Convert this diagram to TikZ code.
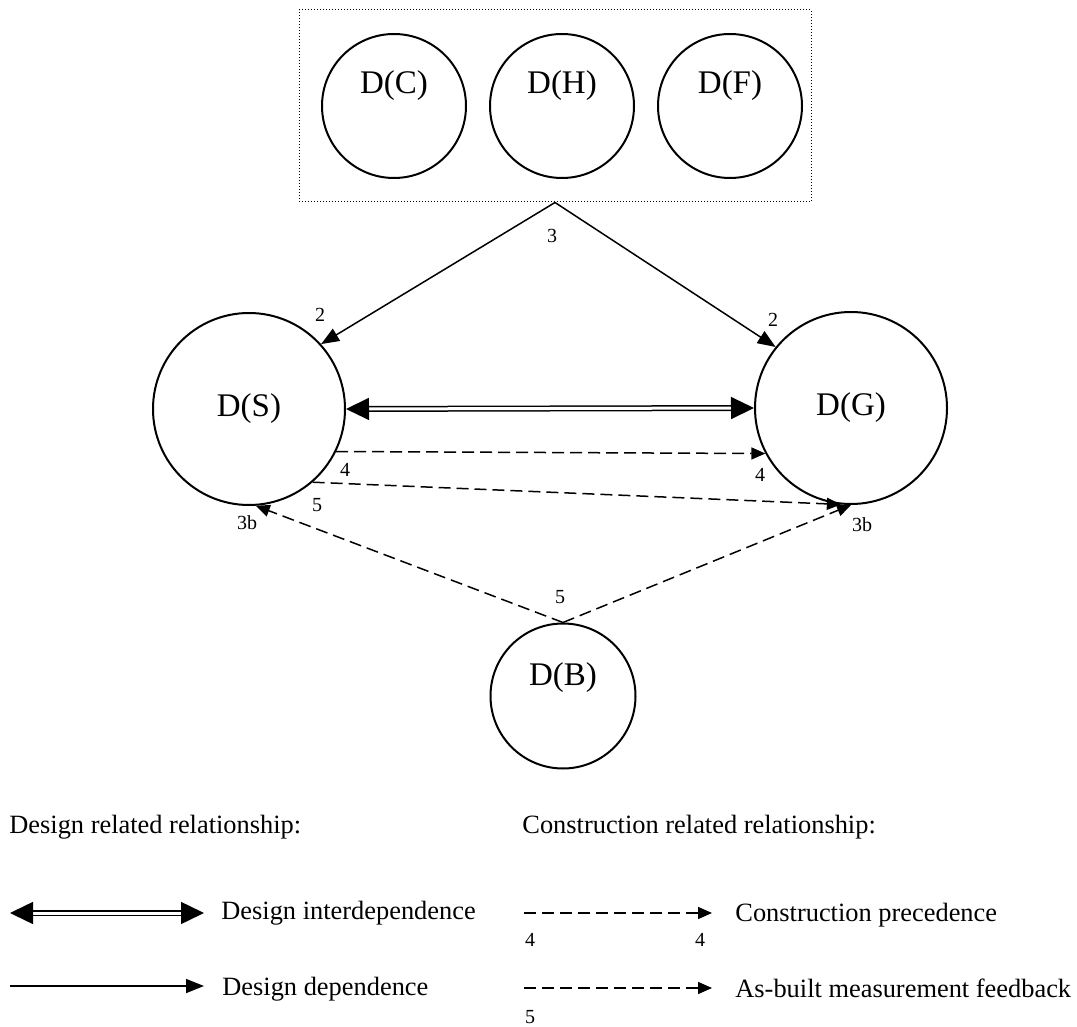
\documentclass[tikz,border=0pt]{standalone}
\usepackage{fontspec}
\setmainfont{Liberation Serif}
\usetikzlibrary{positioning,arrows.meta}

\begin{document}
\begin{tikzpicture}[x=0.5pt,y=-0.5pt]
        \tikzstyle{design}=[circle, draw, line width=1pt, font=\fontsize{16.5}{18}\selectfont];
        \tikzstyle{dname}=[font=\fontsize{16.5}{18}\selectfont];
        \tikzstyle{num}=[inner sep=0, font=\fontsize{10}{12}\selectfont];
        \tikzstyle{legend}=[inner sep=0, anchor=west, font=\fontsize{13.2}{16}\selectfont];
        \tikzstyle{dep}=[line width=0.75pt, -{Triangle[length=9pt, width=7pt]}];
        \tikzstyle{inter}=[double, double distance=1.5pt, line width=0.75pt, {Triangle[length=11.5pt, width=11pt]}-{Triangle[length=11.5pt, width=11pt]}];
        \tikzstyle{constr}=[line width=0.75pt, dash pattern=on 6pt off 3pt, -{Triangle[length=7pt, width=6pt]}];

        \useasboundingbox (0,0) rectangle (1077,1027);

        \node [draw, densely dotted, line width=0.5pt, minimum width=256pt, minimum height=96pt] (grp) at (555,106) {};
        \node [design, minimum size=72pt, label={[dname, yshift=10pt]center:D(C)}] (C) at (394,106) {};
        \node [design, minimum size=72pt, label={[dname, yshift=10pt]center:D(H)}] (H) at (562,106) {};
        \node [design, minimum size=72pt, label={[dname, yshift=10pt]center:D(F)}] (F) at (730,106) {};

        \node [design, minimum size=96pt] (S) at (249,409) {D(S)};
        \node [design, minimum size=96pt] (G) at (851,408) {D(G)};
        \node [design, minimum size=72.5pt, label={[dname, yshift=9pt]center:D(B)}] (B) at (563,696) {};

        \draw [dep] (grp.south) -- (S.42);
        \draw [dep] (grp.south) -- (G.141);
        \draw [inter] (S.east) -- (G.west);
        \draw [constr] (S.-26) -- (G.208);
        \draw [constr] (S.-49) -- (G.264);
        \draw [constr] (B.north) -- (S.-86);
        \draw [constr] (B.north) -- (G.270);

        \node [num] (n3) at (552,236) {3};
        \node [num] (n2s) at (320,315) {2};
        \node [num] (n2g) at (773,320) {2};
        \node [num] (n4s) at (345,470) {4};
        \node [num] (n4g) at (760,475) {4};
        \node [num] (n5s) at (317,505) {5};
        \node [num] (n3bs) at (247,523) {3b};
        \node [num] (n3bg) at (862,525) {3b};
        \node [num] (n5b) at (560,597) {5};

        % legend
        \node [legend] (hd) at (9,827) {Design related relationship:};
        \node [legend] (hc) at (522,827) {Construction related relationship:};

        \coordinate (i1) at (10,913);
        \coordinate (i2) at (204,913);
        \draw [inter] (i1) -- (i2);
        \node [legend, right=17 of i2] (ti) {Design interdependence};

        \coordinate (d1) at (10,986);
        \coordinate (d2) at (204,986);
        \draw [dep] (d1) -- (d2);
        \node [legend, right=18 of d2, yshift=-1.5pt] (td) {Design dependence};

        \coordinate (p1) at (524,913);
        \coordinate (p2) at (712,913);
        \draw [constr] (p1) -- (p2);
        \node [legend, right=23 of p2, yshift=-1pt] (tp) {Construction precedence};
        \node [num] (n4a) at (530,940) {4};
        \node [num] (n4b) at (700,940) {4};

        \coordinate (f1) at (524,988);
        \coordinate (f2) at (712,988);
        \draw [constr] (f1) -- (f2);
        \node [legend, right=23 of f2] (tf) {As-built measurement feedback};
        \node [num] (n5a) at (530,1017) {5};
    \end{tikzpicture}
\end{document}
